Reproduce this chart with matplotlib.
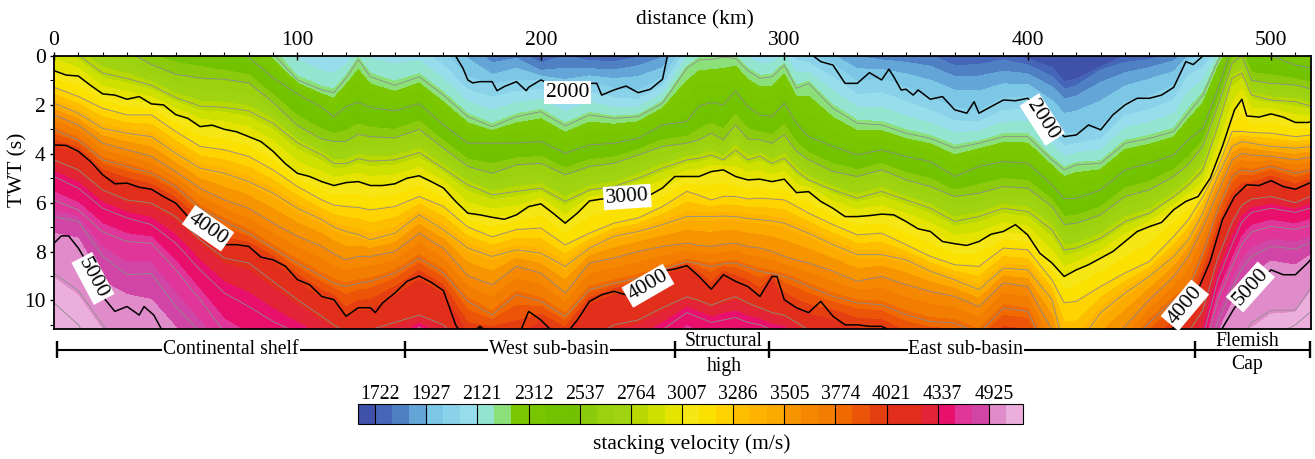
import numpy as np
import matplotlib
matplotlib.use("Agg")
import matplotlib.pyplot as plt
from matplotlib.ticker import MultipleLocator
from matplotlib.transforms import ScaledTranslation

plt.rcParams['font.family'] = ['Liberation Serif', 'DejaVu Serif']

km = [0,10,20,30,40,50,60,70,80,90,100,110,115,120,125,130,140,150,160,170,180,190,200,210,220,230,240,250,260,265,270,275,280,285,290,295,300,305,310,320,330,340,350,360,370,380,390,400,410,415,420,430,440,450,460,466,472,478,484,488,492,500,510,517]

t1600 = [-6.0]*64
t1700 = [-4.5]*18 + [-2,-1.5,-1,-0.8,-0.3,-0.6,-0.4,-0.3,-0.4,-0.9, -2,-2.3,-2.3,-2.3,-2.3,-2.3,-2.3,-2.3,-2.2,-1.8,-1.4, -1.3,-1,-0.8,-0.6,-0.5,-0.1,-0.1,-0.2,0.05,0.35,0.95,0.85,0.4,-0.1,-0.3,-0.5,-1,-1.5,-2,-2.5,-3,-3,-3,-3,-3]
t1800 = [-4.0]*18 + [-1.6,-1,-0.2,-0.2,0.35,0.05,0.25,0.3,0.1,-0.3, -1.5,-1.8,-1.8,-1.8,-1.8,-1.8,-1.8,-1.8,-1.8,-1.3,-0.8, -0.8,-0.4,-0.2,-0.1,0.0,0.45,0.4,0.2,0.4,0.9,1.4,1.25,0.6,0.3,0.2,-0.1,-0.5,-1,-1.5,-2,-2.5,-2.5,-2.5,-2.5,-2.5]
t1900 = [-3.5]*18 + [-0.9,-0.2,0.6,0.3,0.75,0.8,0.7,0.75,0.6,0.3, -1,-1.4,-1.4,-1.4,-1.4,-1.4,-1.4,-1.4,-1.4,-0.9,-0.4, -0.2,0.3,0.4,0.5,0.7,1.1,1.1,0.9,0.95,1.5,2.0,1.9,1.4,0.95,0.65,0.4,-0.1,-0.5,-1,-1.5,-2,-2,-2,-2,-2]
t2000 = [-3.0]*10 + [-1.1,-0.6,-0.5,-0.5,-1,-1,-1,-0.8,-0.1,0.95,1.2,1.05,1.0,1.4,1.12,1.39,1.5,0.95,-0.6,-1,-1,-1,-1,-0.8,-0.6,-0.6,-0.7,-0.3,-0.05,0.37,1.12,0.98,1.36,1.77,2.2,2.34,1.8,1.73,2.7,3.3,3.23,3.02,2.0,1.73,1.28,0.2,0.0,-0.5,-1,-1.8,-1.5,-1.5,-1.5,-1.5]
t2200 = [-3.5,-3,-2.8,-2.5,-2.2,-2,-1.8,-1.5,-1,-0.1,0.98,1.39,1.5,0.9,0.15,0.85,1.2,0.85,1.6,2.48,2.89,2.48,2.28,2.86,2.41,2.55,2.48,1.93,0.5,0.16,0.14,0.05,0.1,0.6,0.91,0.85,0.37,1.32,1.12,2.14,2.75,2.82,3.16,3.37,3.77,3.57,3.3,3.3,4.25,4.66,4.45,4.39,3.57,3.37,3.09,2.34,1.6,0.23,-0.8,-1.5,-1,-0.8,-0.6,-0.5]
t2400 = [-2.5,-2,-1.6,-1.2,-1,-0.8,-0.6,-0.2,0.05,0.9,1.55,2.1,2.48,2.07,1.9,2.1,2.25,1.95,2.82,3.57,3.57,3.57,3.5,3.98,3.64,3.57,3.37,2.82,2.68,2.05,1.9,2.0,1.43,2.07,2.41,2.48,1.93,2.75,3.3,3.7,4.05,3.84,4.11,4.32,4.93,4.52,4.32,4.39,5.27,5.84,5.82,5.48,4.66,4.39,4.05,3.43,2.96,1.39,-0.38,-0.8,0.0,0.0,0.37,0.5]
t2600 = [-1.5,-1,-0.6,-0.2,0.35,0.75,0.9,0.95,1.1,1.9,2.85,3.4,3.5,3.5,3.2,3.3,3.35,3.0,3.77,4.52,4.8,4.45,4.39,4.86,4.52,4.39,4.05,3.7,3.57,3.43,3.16,3.43,2.82,3.4,3.43,3.57,3.23,3.9,4.25,4.73,4.93,4.66,5.07,5.34,5.75,5.61,5.34,5.41,6.16,6.9,6.84,6.5,5.75,5.48,4.93,4.45,3.7,2.07,0.3,0.0,1.0,1.12,1.19,1.36]
t2800 = [-0.7,-0.05,0.7,0.92,1.2,1.7,2.05,2.1,2.25,2.75,3.55,4.05,4.4,4.4,4.2,4.3,4.25,3.95,4.6,5.27,5.68,5.54,5.41,5.95,5.48,5.34,5.0,4.59,4.25,4.18,4.05,4.25,3.84,4.25,4.1,4.39,4.18,4.7,5.07,5.48,5.82,5.54,5.89,6.23,6.77,6.57,6.23,6.36,7.11,7.93,7.86,7.45,6.77,6.43,5.75,5.27,4.66,2.89,0.91,0.7,1.6,1.8,1.87,2.07]
t3000 = [0.6,0.82,1.55,1.77,1.96,2.4,2.89,3.0,3.3,3.9,4.8,5.14,5.3,5.18,5.14,5.3,5.23,4.9,5.4,6.43,6.6,6.5,6.05,6.84,5.93,5.82,5.75,5.4,4.93,4.93,4.73,4.66,4.93,5.07,5.04,5.14,5.04,5.59,5.55,6.23,6.57,6.47,6.77,7.18,7.68,7.59,7.18,7.32,8.47,9.02,8.75,8.27,7.59,6.98,6.29,5.9,5.45,4.2,2.5,1.77,2.47,2.37,2.72,2.68]
t3200 = [1.28,1.66,2.14,2.41,2.41,3.09,3.7,3.84,4.11,4.66,5.34,5.89,6.1,6.16,6.2,6.3,6.16,5.75,6.16,7.0,7.4,7.1,7.04,7.73,7.25,6.84,6.63,6.16,5.54,5.7,5.89,5.75,5.75,5.85,5.82,5.85,5.89,6.15,6.43,6.9,7.32,7.25,7.72,8.2,8.54,8.61,7.86,7.93,9.16,10.1,10.04,9.43,8.88,8.41,7.38,6.7,5.75,4.6,3.09,3.09,3.13,3.16,3.3,3.23]
t3400 = [1.93,2.34,2.96,3.16,3.3,3.98,4.59,4.8,5.14,5.61,6.23,6.7,7.0,7.18,7.3,7.52,7.25,6.5,7.11,7.86,8.2,7.93,8.07,8.61,7.86,7.38,7.18,6.9,6.57,6.57,6.57,6.55,6.57,6.65,6.7,6.75,6.84,7.05,7.25,7.72,8.13,8.13,8.34,8.81,9.16,9.56,8.68,8.75,9.97,11.9,11.9,10.5,9.7,9.02,8.2,7.52,6.43,4.93,3.7,3.5,3.57,3.7,3.77,3.7]
t3600 = [2.41,2.82,3.57,3.84,4.11,4.73,5.41,5.89,6.23,6.84,7.38,7.79,8.1,8.34,8.2,8.2,8.0,7.25,7.86,9.0,9.36,8.61,8.88,9.7,8.47,8.27,8.0,7.79,7.66,7.75,7.79,7.7,7.66,7.8,7.86,8.0,8.2,8.35,8.47,8.81,9.22,9.02,9.36,9.63,9.84,10.25,9.29,9.43,11.2,13,13,12,11.06,9.97,9.02,8.2,7.0,5.61,4.25,3.98,4.05,4.11,4.25,4.11]
t3800 = [3.02,3.43,4.25,4.52,4.8,5.34,6.23,6.77,7.25,7.86,8.47,9.02,9.3,9.43,9.3,9.22,8.88,8.27,8.88,10.04,10.59,9.77,10.04,10.65,9.56,9.29,9.08,8.75,8.41,8.5,8.61,8.5,8.47,8.65,8.81,8.9,9.02,9.2,9.43,9.84,10.1,10.18,10.59,10.86,10.93,11.33,10.31,10.45,12.5,14,14,13,12,10.9,10.0,9.56,8.06,6.3,4.93,4.66,4.73,4.52,4.8,4.66]
t4000 = [3.64,3.9,4.86,5.2,5.45,6.02,6.9,7.72,7.79,8.34,9.15,9.84,10.0,10.65,10.3,10.3,9.7,9.0,9.6,11.3,11.3,11.3,10.8,11.3,10.04,9.63,9.43,8.8,8.58,9.02,9.54,8.95,9.22,9.43,9.84,9.02,9.97,10.3,10.5,10.65,11.0,11.06,11.6,11.7,11.8,12,11.4,11.5,13,15,15,14,13,12,11.2,10.3,9.1,7.3,5.9,5.45,5.35,5.1,5.45,5.15]
t4200 = [4.25,4.66,5.48,5.89,6.02,6.57,7.52,8.27,8.47,9.22,9.97,10.65,11.0,11.3,11.2,11.2,10.9,10.6,11.0,12.0,12.0,12.0,11.8,12.0,11.6,11.0,10.8,10.3,9.85,10.0,10.2,10.0,9.85,10.1,10.3,10.5,10.6,10.9,11.2,12.0,12.2,12.2,12.4,12.5,12.6,12.7,12.2,12.3,14,16,16,15,14,13,12.5,11.3,10.4,8.3,6.8,6.1,5.85,5.75,6.0,5.7]
t4400 = [4.93,5.41,6.23,6.63,6.9,7.66,8.75,9.7,10.25,10.86,11.33,11.8,12,12.2,12.2,12.2,11.8,11.1,11.6,13,13,13,12.8,13,12.6,12,11.8,11.2,10.5,10.7,10.9,10.8,10.7,10.9,11.0,11.2,11.3,11.8,12.2,13,13.2,13.2,13.4,13.5,13.6,13.7,13.2,13.3,15,17,17,16,15,14,13.5,12.5,11.5,9.2,7.7,6.8,6.4,6.23,6.4,6.2]
t4600 = [5.89,6.3,7.2,7.59,7.66,8.75,9.97,11.3,11.9,12.4,12.8,13.2,13.2,13.2,13.2,13.2,13,12.4,12.8,14,14,14,13.8,14,13.6,13,12.8,12.2,11.3,11.6,12,11.8,11.7,11.9,12,12.2,12.3,12.8,13.2,14,14.2,14.2,14.4,14.5,14.6,14.7,14.2,14.3,16,18,18,17,16,15,14.5,13.5,12.4,10.0,8.6,7.7,7.2,6.97,7.1,6.9]
t4800 = [6.57,6.77,8.2,8.95,8.9,10.25,11.3,12.4,13,13.5,14,14.4,14.4,14.4,14.4,14.4,14.2,13.6,14] + [19]*36 + [14.5,12.8,10.9,9.5,8.7,8.2,7.79,7.9,7.6]
t5000 = [7.66,7.86,9.84,10.25,10.6,11.6,12.4,13.5,14,14.5,15,15.4,15.4,15.4,15.4,15.4,15.2,14.6,15] + [20]*36 + [15.5,13.6,11.6,10.5,9.9,9.4,8.75,8.95,8.4]
t5200 = [8.9,9.6,11.0,12.5,13,13.5,14,15,15,16,16,16.4,16.4,16.4,16.4,16.4,16.2,15.6,16] + [21]*36 + [16.5,14.5,13,12.2,11.5,10.9,10.4,10.4,9.4]
t5400 = [10.1,11.0,12.5,14,14.5,15,15.5,16,16,17,17,17.4,17.4,17.4,17.4,17.4,17.2,16.6,17] + [22]*36 + [17.5,15.5,14,13.5,13,12.5,11.5,11.0,10.4]
t5600 = [11.5,12.5,14,15.5,16,16.5,17,17,17,18,18,18.4,18.4,18.4,18.4,18.4,18.2,17.6,18] + [23]*36 + [18.5,16.5,15,15,14.5,14,13,12.5,12]

iso_velocity = [1600,1700,1800,1900,2000,2200,2400,2600,2800,3000,3200,3400,3600,3800,4000,4200,4400,4600,4800,5000,5200,5400,5600]
iso_times = [t1600,t1700,t1800,t1900,t2000,t2200,t2400,t2600,t2800,t3000,t3200,t3400,t3600,t3800,t4000,t4200,t4400,t4600,t4800,t5000,t5200,t5400,t5600]

gray_levels = [2200,2400,2600,2800,3200,3400,3600,3800,4200,4400,4600,4800,5200,5400]

band_levels = [1500,1722,1790,1860,1927,1992,2057,2121,2185,2248,2312,2387,2462,2537,2613,2688,2764,2845,2926,3007,3100,3193,3286,3359,3432,3505,3595,3684,3774,3856,3939,4021,4126,4232,4337,4533,4729,4925,5230,5600]
band_colors = ['#3F51A8','#4566B8','#4F80C4','#62A5D6','#7CC6E6','#8AD2E9','#97DDEB','#93E5CF','#8CE07A','#7CC800','#78C600','#72C300','#72C200','#8CCB0C','#9BD20E','#A0D310','#B7D800','#CDE000','#E5E400','#F7E615','#FBE100','#FED300','#FDBE00','#FDB300','#FCA900','#F69500','#F58800','#F27D00','#F06A00','#EC5408','#E53E10','#E12F1C','#E12F1C','#E32437','#E8106C','#E0369A','#D045A5','#E08CCB','#ECAEDC']
labelled_levels = [1722,1927,2121,2312,2537,2764,3007,3286,3505,3774,4021,4337,4925]

km_2000 = [160,165,168,170,172,175,180,182,185,190,194,195,200,205,210,215,220,223,225,230,235,240,245,250,252,255,305,312,315,320,325,330,335,340,343,345,348,350,353,355,360,365,370,375,378,380,385,390,395,400,405,410,415,420,425,430,435,440,445,450,455,460,465,468,472,476]
line_2000 = [-0.5,0.0,0.5,0.98,1.1,1.05,1.05,1.42,1.25,1.05,1.42,1.28,0.98,1.2,1.4,1.3,1.12,1.12,1.6,1.39,1.23,1.5,1.36,0.95,0.0,-0.6,-0.6,0.0,0.23,0.37,1.12,1.12,0.68,0.98,0.54,0.85,1.39,1.36,1.6,1.39,1.77,1.66,2.2,2.34,1.87,2.34,2.07,1.8,1.83,1.73,2.2,2.75,3.3,3.23,2.82,3.02,2.41,2.0,1.73,1.73,1.6,1.28,0.23,0.35,0.0,-0.5]
km_3000 = [0,5,10,15,20,25,30,35,40,45,50,55,60,65,70,75,80,85,90,95,100,105,110,115,120,125,130,135,140,145,150,155,160,165,170,175,180,185,190,195,200,205,210,215,220,225,230,235,240,245,250,255,260,265,270,275,280,285,290,295,300,305,310,315,320,325,330,335,340,345,350,355,360,365,370,375,380,385,390,395,400,405,410,415,420,425,430,435,440,445,450,455,460,465,470,475,480,485,488,490,495,500,505,510,515,517]
line_3000 = [0.6,0.78,0.82,1.2,1.55,1.6,1.77,1.66,1.96,2.0,2.4,2.55,2.89,2.83,3.0,3.1,3.3,3.5,3.9,4.4,4.8,4.93,5.14,5.3,5.18,5.14,5.3,5.3,5.23,5.0,4.9,5.14,5.4,5.95,6.43,6.5,6.6,6.68,6.5,6.16,6.05,6.43,6.84,6.43,5.93,5.85,5.82,5.78,5.75,5.68,5.4,4.93,4.93,4.93,4.73,4.66,4.93,5.07,5.04,5.14,5.04,5.59,5.55,5.95,6.23,6.57,6.57,6.53,6.47,6.5,6.77,7.07,7.18,7.59,7.68,7.75,7.59,7.29,7.18,6.9,7.32,8.07,8.47,9.02,8.75,8.54,8.27,8.0,7.59,7.18,6.98,6.81,6.29,5.95,5.75,5.0,3.7,2.2,1.77,2.45,2.5,2.37,2.5,2.72,2.72,2.68]
km_4000 = [0,5,10,15,20,25,30,35,40,45,50,55,60,65,70,75,80,85,90,95,100,105,110,115,120,125,130,132,135,140,145,150,155,160,165,167,172,175,178,190,192,195,200,205,210,212,215,220,225,230,235,240,245,250,255,260,265,270,275,280,285,290,295,297,300,305,310,315,320,325,330,335,340,345,457,460,465,470,475,480,485,490,495,500,505,510,515,517]
line_4000 = [3.64,3.66,3.9,4.32,4.86,5.23,5.2,5.37,5.45,5.75,6.02,6.57,6.9,7.3,7.72,7.72,7.79,8.23,8.34,8.6,9.15,9.36,9.84,9.97,10.65,10.3,10.3,10.5,10.1,9.7,9.22,9.0,9.26,9.6,11.0,11.3,11.3,11.06,11.3,11.3,11.17,10.45,10.8,11.3,11.3,11.17,10.8,10.04,9.77,9.63,9.77,9.43,9.08,8.8,8.72,8.58,9.02,9.54,8.95,9.22,9.43,9.84,9.02,9.02,9.97,10.3,10.5,10.04,10.65,11.0,11.0,11.06,11.06,11.3,11.3,11.1,10.3,9.56,8.4,6.7,5.75,5.27,5.3,5.1,5.34,5.45,5.23,5.15]
km_5000_west = [0,3,6,10,15,20,25,30,35,37,41,44,46]
line_5000_west = [7.66,7.36,7.36,7.86,8.7,9.84,10.45,10.25,10.6,10.25,10.6,11.15,11.4]
km_5000_east = [478,480,485,490,495,500,505,510,515,517]
line_5000_east = [11.6,11.13,10.3,9.8,9.25,8.75,8.95,8.95,8.47,8.25]

label_text = ['2000','2000','3000','4000','4000','4000','5000','5000']
label_km = [211.0,406.0,235.5,63.3,244.0,464.6,16.0,491.5]
label_twt = [1.5,2.6,5.77,7.05,9.4,10.2,9.1,9.45]
label_rot = [0,-57,4,-35,30,50,-62,48]

province_ticks = [57,405,675,769,1195,1310]
province_names = ['Continental shelf','West sub-basin','East sub-basin']
province_name_x = [231,549,966]
two_line_names = ['Structural','high','Flemish','Cap']
two_line_x = [724,724,1247,1247]
two_line_y = [341,366,341,365]

W, H = 1315, 459
fig = plt.figure(figsize=(W/100, H/100), dpi=100)
def px_axes(l, t, r, b):
    return fig.add_axes([l/W, 1-b/H, (r-l)/W, (b-t)/H])

ax = px_axes(54, 56, 1311, 329)
X = np.tile(np.array(km, float), (len(iso_velocity), 1))
Y = np.maximum.accumulate(np.array(iso_times, float), axis=0)
Z = np.tile(np.array(iso_velocity, float)[:, None], (1, len(km)))
cf = ax.contourf(X, Y, Z, levels=band_levels, colors=band_colors, antialiased=False)
ax.contour(X, Y, Z, levels=gray_levels, colors='#8c8c8c', linewidths=0.6)
for xs, ys in [(km_2000, line_2000), (km_3000, line_3000), (km_4000, line_4000),
               (km_5000_west, line_5000_west), (km_5000_east, line_5000_east)]:
    ax.plot(xs, ys, color='black', lw=1.1)
for s, x, y, r in zip(label_text, label_km, label_twt, label_rot):
    ax.text(x, y, s, rotation=r, ha='center', va='center', fontsize=15.5, rotation_mode='anchor',
            bbox=dict(facecolor='white', edgecolor='none', pad=1.5), zorder=6)

ax.set_xlim(0, 516.4)
ax.set_ylim(11.17, 0)
ax.xaxis.set_ticks_position('top')
ax.xaxis.set_major_locator(MultipleLocator(100))
ax.xaxis.set_minor_locator(MultipleLocator(10))
ax.yaxis.set_major_locator(MultipleLocator(2))
ax.yaxis.set_minor_locator(MultipleLocator(1))
ax.tick_params(which='major', axis='x', direction='inout', length=6, width=1, labelsize=15.5, pad=1)
ax.tick_params(which='minor', axis='x', direction='out', length=3, width=0.8)
ax.tick_params(which='major', axis='y', direction='out', length=3, width=1, labelsize=15.5, pad=3)
ax.tick_params(which='minor', axis='y', direction='out', length=3, width=0.8)
for sp in ax.spines.values():
    sp.set_linewidth(1.3)
fig.text(695/W, 1-20/H, 'distance (km)', ha='center', va='center', fontsize=15.5)
fig.text(18/W, 1-170/H, 'TWT (s)', ha='center', va='center', rotation=90, fontsize=15.5)

ov = fig.add_axes([0, 0, 1, 1], zorder=-1)
ov.set_xlim(0, W); ov.set_ylim(H, 0); ov.axis('off')
ov.plot([province_ticks[0], province_ticks[-1]], [350, 350], color='black', lw=1.5)
ov.vlines(province_ticks, 341, 358, color='black', lw=1.7)
for s, x in zip(province_names, province_name_x):
    ov.text(x, 350, s, ha='center', va='center', fontsize=14.2,
            bbox=dict(facecolor='white', edgecolor='none', pad=0.5))
for s, x, y in zip(two_line_names, two_line_x, two_line_y):
    ov.text(x, y, s, ha='center', va='center', fontsize=14.2)

cax = px_axes(358, 404, 1023, 424)
cb = fig.colorbar(cf, cax=cax, orientation='horizontal', spacing='uniform', ticks=labelled_levels)
cb.minorticks_off()
cax.xaxis.set_ticks_position('top')
cax.tick_params(axis='x', which='major', direction='in', length=14.4, width=0.8, labelsize=14.2, pad=0)
cb.ax.set_xticklabels([str(v) for v in labelled_levels])
off = ScaledTranslation(5/100, 0, fig.dpi_scale_trans)
for lab in cax.get_xticklabels():
    lab.set_transform(lab.get_transform() + off)
cb.outline.set_linewidth(0.8)
fig.text(692/W, 1-444/H, 'stacking velocity (m/s)', ha='center', va='center', fontsize=15.5)

fig.savefig('out.png', dpi=100)
